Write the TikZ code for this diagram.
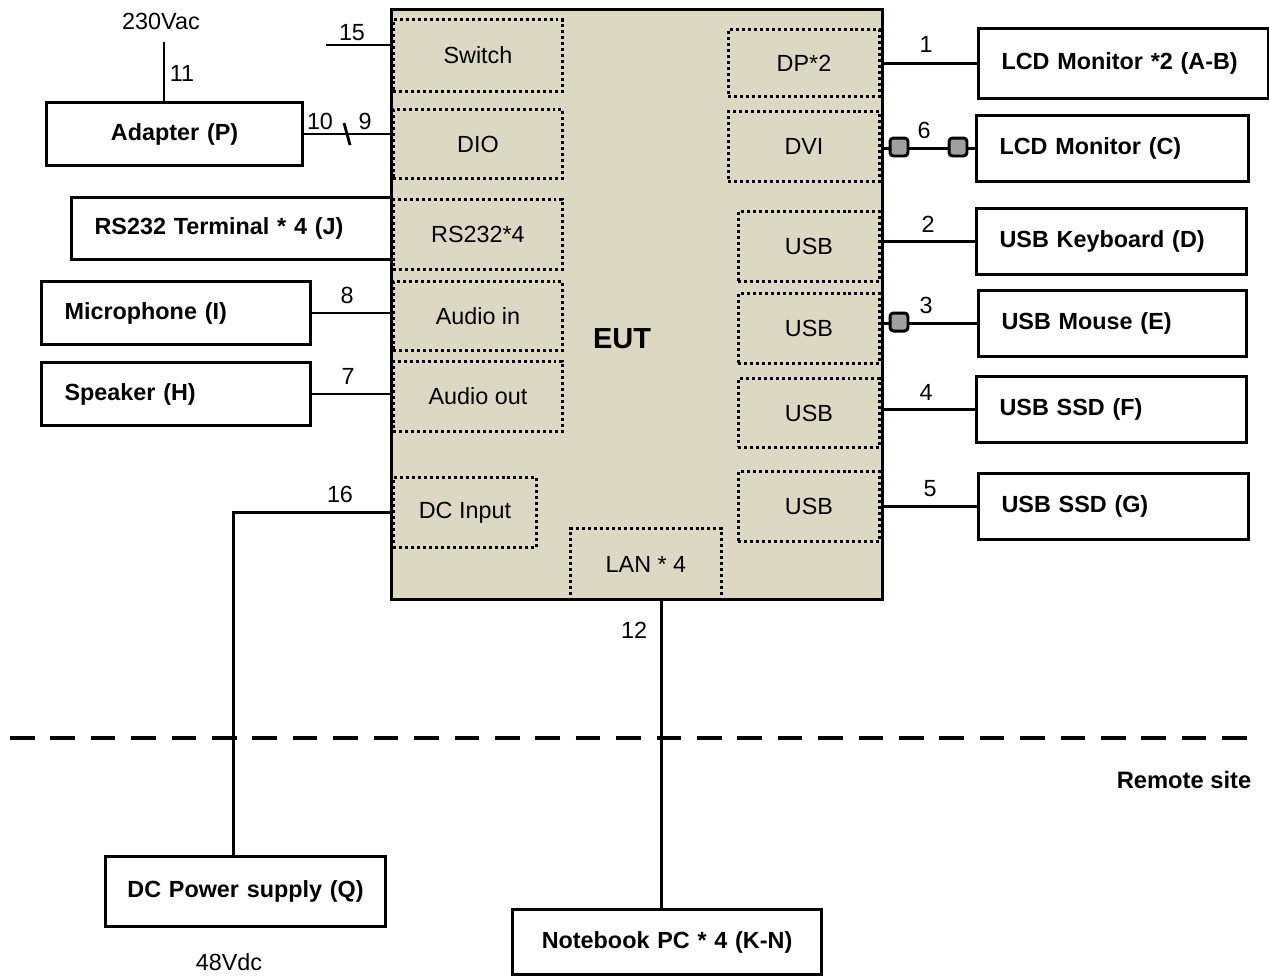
\documentclass[tikz,border=0pt]{standalone}
\usepackage{fontspec}
\setmainfont{Liberation Sans}
\usetikzlibrary{positioning,calc}
\definecolor{eutbeige}{RGB}{221,216,196}
\definecolor{ferritegray}{RGB}{160,160,160}

\begin{document}
\begin{tikzpicture}[
    x=0.02cm, y=-0.02cm,
    font=\fontsize{13.3}{16}\selectfont,
    line width=1.6pt,
    unitbox/.style={draw, line width=1.8pt, anchor=north west, inner xsep=0.46cm, inner ysep=0pt, align=left, font=\fontsize{13.3}{16}\selectfont\bfseries},
    portbox/.style={draw, line width=1.7pt, dash pattern=on 1.7pt off 1.7pt, anchor=north west, inner sep=0pt, align=center},
    eutbox/.style={draw, fill=eutbeige, line width=1.8pt, anchor=north west, inner sep=0pt},
    ferrite/.style={draw, line width=1.7pt, fill=ferritegray, rounded corners=2pt, minimum size=0.36cm, inner sep=0pt},
    numlabel/.style={inner sep=1pt},
    sitedash/.style={line width=2.8pt, dash pattern=on 14pt off 9pt},
]
\useasboundingbox (0,0) rectangle (1269,975);

% === EUT ===
\node[eutbox, minimum width=9.82cm, minimum height=11.8cm] (eut) at (390,8) {};
\node[font=\fontsize{16.5}{19}\selectfont\bfseries] (eutlabel) at (622,339) {EUT};

% === Ports (left) ===
\node[portbox, minimum width=3.38cm, minimum height=1.44cm] (sw) at (392,18) {Switch};
\node[portbox, minimum width=3.38cm, minimum height=1.38cm] (dio) at (392,108) {DIO};
\node[portbox, minimum width=3.38cm, minimum height=1.4cm] (rs) at (392,198) {RS232*4};
\node[portbox, minimum width=3.38cm, minimum height=1.38cm] (ain) at (392,280) {Audio in};
\node[portbox, minimum width=3.38cm, minimum height=1.4cm] (aout) at (392,360) {Audio out};
\node[portbox, minimum width=2.86cm, minimum height=1.4cm] (dcin) at (392,476) {DC Input};
\node[portbox, minimum width=3.02cm, minimum height=1.42cm] (lan) at (569,527) {LAN * 4};

% === Ports (right) ===
\node[portbox, minimum width=3.02cm, minimum height=1.34cm] (dp) at (727,28) {DP*2};
\node[portbox, minimum width=3.02cm, minimum height=1.4cm] (dvi) at (727,110) {DVI};
\node[portbox, minimum width=2.82cm, minimum height=1.4cm] (usba) at (737,210) {USB};
\node[portbox, minimum width=2.82cm, minimum height=1.4cm] (usbb) at (737,292) {USB};
\node[portbox, minimum width=2.82cm, minimum height=1.38cm] (usbc) at (737,377) {USB};
\node[portbox, minimum width=2.82cm, minimum height=1.4cm] (usbd) at (737,470) {USB};

% === Units (left) ===
\node[unitbox, align=center, text width=4.2cm, minimum height=1.26cm] (adapter) at (45,101) {Adapter (P)};
\node[unitbox, text width=5.48cm, minimum height=1.24cm] (rsterm) at (70,196) {RS232 Terminal * 4 (J)};
\node[unitbox, text width=4.46cm, minimum height=1.26cm] (mic) at (40,280) {Microphone (I)};
\node[unitbox, text width=4.46cm, minimum height=1.26cm] (spk) at (40,361) {Speaker (H)};

% === Units (right) ===
\node[unitbox, text width=4.88cm, minimum height=1.4cm] (lcdab) at (977,27) {LCD Monitor *2 (A-B)};
\node[unitbox, text width=4.52cm, minimum height=1.32cm] (lcdc) at (975,114) {LCD Monitor (C)};
\node[unitbox, text width=4.48cm, minimum height=1.32cm] (kbd) at (975,207) {USB Keyboard (D)};
\node[unitbox, text width=4.44cm, minimum height=1.32cm] (mouse) at (977,289) {USB Mouse (E)};
\node[unitbox, text width=4.48cm, minimum height=1.32cm] (ssdf) at (975,375) {USB SSD (F)};
\node[unitbox, text width=4.48cm, minimum height=1.32cm] (ssdg) at (977,472) {USB SSD (G)};

% === Units (remote site) ===
\node[unitbox, align=center, inner xsep=0.3cm, text width=5.0cm, minimum height=1.4cm] (dcps) at (104,855) {DC Power supply (Q)};
\node[unitbox, align=center, text width=5.26cm, minimum height=1.3cm] (nbpc) at (511,908) {Notebook PC * 4 (K-N)};

% === Supplies ===
\node (vac) at (161,21) {230Vac};
\node (vdc) at (229,962) {48Vdc};
\coordinate (acin) at (164,42);
\coordinate (swin) at (326,45);

% === Cables (left) ===
\draw (acin) -- (acin |- adapter.north);
\draw (swin) -- (swin -| eut.west);
\draw (adapter.east) -- (adapter.east -| eut.west) coordinate[pos=0.5] (cut);
\draw ($(cut)+(-3,-11)$) -- ($(cut)+(3,11)$);
\draw (mic.east) -- (mic.east -| eut.west);
\draw (spk.east) -- (spk.east -| eut.west);
\draw (eut.west |- dcin.west) -| ([xshift=-0.24cm]dcps.north);
\draw ([xshift=-0.11cm]nbpc.north |- eut.south) -- ([xshift=-0.11cm]nbpc.north);

% === Cables (right) ===
\draw (lcdab.west -| eut.east) -- (lcdab.west);
\draw (lcdc.west -| eut.east) -- (lcdc.west);
\draw (kbd.west -| eut.east) -- (kbd.west);
\draw (mouse.west -| eut.east) -- (mouse.west);
\draw (ssdf.west -| eut.east) -- (ssdf.west);
\draw (ssdg.west -| eut.east) -- (ssdg.west);

% ferrite cores
\node[ferrite] (fer1) at (899,147) {};
\node[ferrite] (fer2) at (958,147) {};
\node[ferrite] (fer3) at (899,322) {};

% === Cable numbers ===
\node[numlabel] (n11) at (182,73) {11};
\node[numlabel] (n15) at (352,33) {15};
\node[numlabel] (n10) at (320,121) {10};
\node[numlabel] (n9) at (365,121) {9};
\node[numlabel] (n8) at (347,295) {8};
\node[numlabel] (n7) at (348,376) {7};
\node[numlabel] (n16) at (340,494) {16};
\node[numlabel] (n12) at (634,630) {12};
\node[numlabel] (n1) at (926,44) {1};
\node[numlabel] (n6) at (924,130) {6};
\node[numlabel] (n2) at (928,224) {2};
\node[numlabel] (n3) at (926,305) {3};
\node[numlabel] (n4) at (926,392) {4};
\node[numlabel] (n5) at (930,489) {5};

% === Remote site border ===
\coordinate (siteL) at (10,738);
\coordinate (siteR) at (1255,738);
\draw[sitedash] (siteL) -- (siteR);
\node[font=\fontsize{13.5}{16}\selectfont\bfseries] (remote) at (1184,780) {Remote site};

\end{tikzpicture}
\end{document}
